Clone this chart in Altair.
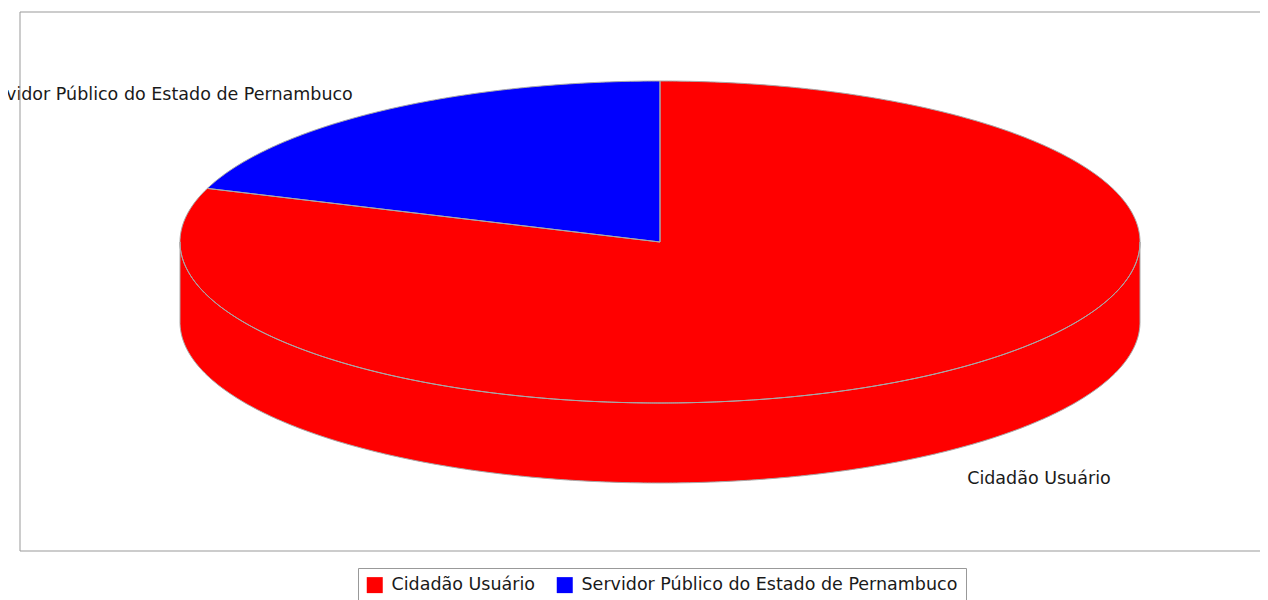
import math
import altair as alt
import numpy as np
import pandas as pd

# ---- data ----
categories = ["Cidadão Usuário", "Servidor Público do Estado de Pernambuco"]
values = [80.4, 19.6]
colors = ["#FF0000", "#0000FF"]

# ---- layout parameters of the 3D pie (in radius units) ----
SQUASH = 161 / 480     # vertical flattening of the ellipse
DEPTH = 80 / 480       # height of the side wall
START = 90.0           # first slice starts at 12 o'clock, clockwise
LABEL_RX = 1.108
LABEL_RY = 0.49
LABEL_DY = -0.093

total = float(sum(values))
rows = []
label_rows = []
angle = START
pid = 0
for cat, v in zip(categories, values):
    extent = v / total * 360.0
    a0, a1 = angle, angle - extent
    angle = a1
    # top face
    n = max(3, int(extent * 2) + 1)
    ts = np.linspace(a0, a1, n)
    pts = [(0.0, 0.0)] + [(math.cos(math.radians(t)), SQUASH * math.sin(math.radians(t))) for t in ts] + [(0.0, 0.0)]
    for k, (px, py) in enumerate(pts):
        rows.append({"poly": f"top{pid}", "kind": "top", "cat": cat, "idx": k, "x": px, "y": py})
    pid += 1
    # visible front wall (lower half of the ellipse)
    for kk in range(-2, 3):
        lo = max(a1, -180.0 + 360.0 * kk)
        hi = min(a0, 0.0 + 360.0 * kk)
        if hi > lo:
            m = max(3, int((hi - lo) * 2) + 1)
            ws = np.linspace(lo, hi, m)
            top_edge = [(math.cos(math.radians(t)), SQUASH * math.sin(math.radians(t))) for t in ws]
            bot_edge = [(x, y - DEPTH) for (x, y) in reversed(top_edge)]
            poly = top_edge + bot_edge + [top_edge[0]]
            for k, (px, py) in enumerate(poly):
                rows.append({"poly": f"side{pid}", "kind": "side", "cat": cat, "idx": k, "x": px, "y": py})
            pid += 1
    mid = math.radians((a0 + a1) / 2.0)
    label_rows.append({
        "cat": cat,
        "x": LABEL_RX * math.cos(mid),
        "y": LABEL_RY * math.sin(mid) + LABEL_DY,
        "side": "right" if math.cos(mid) >= 0 else "left",
    })

df = pd.DataFrame(rows)
ldf = pd.DataFrame(label_rows)

W, H = 1240, 539
xs = alt.Scale(domain=[-640 / 480, (W - 640) / 480], nice=False, zero=False)
ys = alt.Scale(domain=[-(H - 230) / 480, 230 / 480], nice=False, zero=False)
cscale = alt.Scale(domain=categories, range=colors)

FONT = "DejaVu Sans"
TXT = "#1a1a1a"
FS = 17.5

legend = alt.Legend(
    title=None,
    orient="none",
    legendX=338,
    legendY=556,
    direction="horizontal",
    symbolType="square",
    symbolSize=256,
    symbolStrokeWidth=0,
    symbolOpacity=1,
    labelFont=FONT,
    labelFontSize=FS,
    labelColor=TXT,
    labelOffset=8,
    labelLimit=600,
    columnPadding=20,
    padding=8,
    strokeColor="#999999",
    fillColor="white",
)

base = alt.Chart(df).encode(
    x=alt.X("x:Q", scale=xs, axis=None),
    y=alt.Y("y:Q", scale=ys, axis=None),
    order=alt.Order("idx:Q"),
    detail="poly:N",
)

fills = base.mark_line(strokeOpacity=0, interpolate="linear").encode(
    fill=alt.Fill("cat:N", scale=cscale, sort=categories, legend=legend)
)
# side walls first, then top faces
sides = fills.transform_filter(alt.datum.kind == "side")
tops = fills.transform_filter(alt.datum.kind == "top")

outline_side = base.transform_filter(alt.datum.kind == "side").mark_line(
    stroke="#A8A8A8", strokeWidth=1, interpolate="linear"
)
outline_top = base.transform_filter(alt.datum.kind == "top").mark_line(
    stroke="#A8A8A8", strokeWidth=1, interpolate="linear"
)

lab_base = alt.Chart(ldf).encode(
    x=alt.X("x:Q", scale=xs, axis=None),
    y=alt.Y("y:Q", scale=ys, axis=None),
    text="cat:N",
)
lab_right = lab_base.transform_filter(alt.datum.side == "right").mark_text(
    align="left", baseline="middle", font=FONT, fontSize=FS, color=TXT
)
lab_left = lab_base.transform_filter(alt.datum.side == "left").mark_text(
    align="right", baseline="middle", font=FONT, fontSize=FS, color=TXT
)

one = alt.Data(values=[{}])
border_top = alt.Chart(one).mark_rule(color="#999999", strokeWidth=1).encode(
    x=alt.value(0), x2=alt.value(W + 20), y=alt.value(0)
)
border_bottom = alt.Chart(one).mark_rule(color="#999999", strokeWidth=1).encode(
    x=alt.value(0), x2=alt.value(W + 20), y=alt.value(H)
)
border_left = alt.Chart(one).mark_rule(color="#999999", strokeWidth=1).encode(
    x=alt.value(0), y=alt.value(0), y2=alt.value(H)
)

chart = alt.layer(
    sides, tops, outline_side, outline_top, lab_right, lab_left,
    border_top, border_bottom, border_left
).properties(
    width=W,
    height=H,
    autosize=alt.AutoSizeParams(type="none"),
    padding={"left": 12, "top": 4, "right": 0, "bottom": 49},
    background="white",
).configure_view(stroke=None)

chart.save("out.html", embed_options={"renderer": "svg", "actions": False})
